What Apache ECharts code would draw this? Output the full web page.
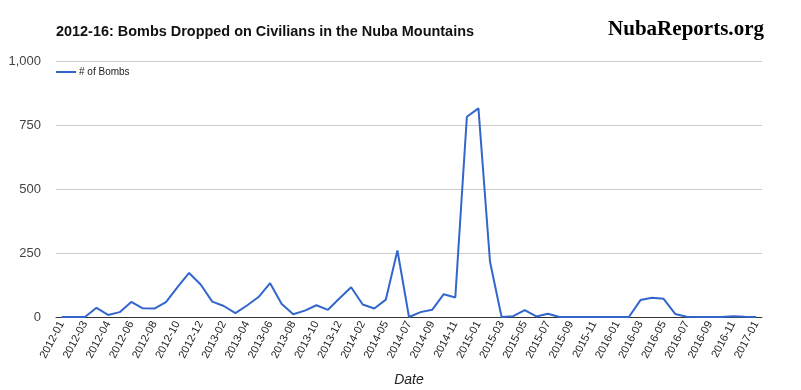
<!DOCTYPE html>
<html>
<head>
<meta charset="utf-8">
<script src="https://cdn.jsdelivr.net/npm/echarts@6/dist/echarts.min.js"></script>
<style>
html,body{margin:0;padding:0;background:#fff;}
#chart{width:801px;height:390px;}
</style>
</head>
<body>
<div id="chart"></div>
<script>
// Category labels (as shown on the reference axis; every other one is displayed)
const dates = [
  '2012-01','2012-02','2012-03','2012-03','2012-04','2012-05','2012-06','2012-07','2012-08','2012-09',
  '2012-10','2012-11','2012-12','2013-01','2013-02','2013-03','2013-04','2013-05','2013-06','2013-07',
  '2013-08','2013-09','2013-10','2013-11','2013-12','2014-01','2014-02','2014-03','2014-05','2014-06',
  '2014-07','2014-08','2014-09','2014-10','2014-11','2014-12','2015-01','2015-02','2015-03','2015-04',
  '2015-05','2015-06','2015-07','2015-08','2015-09','2015-10','2015-11','2015-12','2016-01','2016-02',
  '2016-03','2016-04','2016-05','2016-06','2016-07','2016-08','2016-09','2016-10','2016-11','2016-12',
  '2017-01'
];
// # of Bombs per period
const bombs = [
  0, 0, 0, 36, 8, 19, 59, 34, 33, 58,
  117, 172, 127, 60, 43, 15, 45, 78, 132, 51,
  11, 25, 46, 28, 73, 116, 49, 33, 68, 260,
  0, 19, 28, 89, 76, 782, 815, 216, 0, 3,
  27, 2, 13, 0, 0, 0, 0, 0, 0, 0,
  66, 75, 71, 12, 1, 0, 0, 0, 3, 1,
  0
];
const seriesName = '# of Bombs';
const titleText = '2012-16: Bombs Dropped on Civilians in the Nuba Mountains';
const yTicks = [0, 250, 500, 750, 1000];

function measure(text, font) {
  const c = document.createElement('canvas').getContext('2d');
  c.font = font;
  return c.measureText(text).width;
}
const titleFont = 'bold 14px "Liberation Sans", Arial, sans-serif';
const titleScale = 418 / measure(titleText, titleFont);
const logoFont = 'bold 21px "Liberation Serif", serif';
const logoScale = 156 / measure('NubaReports.org', logoFont);

const chart = echarts.init(document.getElementById('chart'), null, {renderer: 'canvas'});
chart.setOption({
  animation: false,
  backgroundColor: '#ffffff',
  textStyle: {fontFamily: '"Liberation Sans", Arial, sans-serif'},
  graphic: [
    {
      type: 'text', x: 56, y: 32, scaleX: titleScale, originX: 0,
      style: {text: titleText, font: titleFont, fill: '#111', verticalAlign: 'middle', align: 'left'}
    },
    {
      type: 'text', x: 764, y: 30, scaleX: logoScale, originX: 0,
      style: {
        text: '{a|Nuba}{b|Reports.org}', align: 'right', verticalAlign: 'middle',
        rich: {
          a: {fontFamily: '"Liberation Serif", serif', fontWeight: 'bold', fontSize: 21, color: '#d2602c'},
          b: {fontFamily: '"Liberation Serif", serif', fontWeight: 'bold', fontSize: 21, color: '#111'}
        }
      }
    }
  ],
  legend: {
    left: 51, top: 62,
    icon: 'rect', itemWidth: 20, itemHeight: 2,
    textStyle: {fontSize: 10, color: '#222', padding: [0, 0, 0, -2]},
    data: [seriesName]
  },
  grid: {left: 56, right: 39, top: 61, bottom: 73, containLabel: false, outerBoundsMode: 'none'},
  xAxis: {
    type: 'category',
    data: dates,
    boundaryGap: true,
    name: 'Date',
    nameLocation: 'middle',
    nameGap: 56,
    nameTextStyle: {fontSize: 14, fontStyle: 'italic', color: '#222'},
    axisLine: {lineStyle: {color: '#333', width: 1}},
    axisTick: {show: false},
    axisLabel: {interval: 1, rotate: 62, fontSize: 11, color: '#222', margin: 5},
    splitLine: {show: false}
  },
  yAxis: {
    type: 'value',
    min: yTicks[0], max: yTicks[yTicks.length - 1], interval: 250,
    axisLine: {show: false},
    axisTick: {show: false},
    axisLabel: {
      fontSize: 13, color: '#444', margin: 15,
      formatter: v => v.toLocaleString('en-US')
    },
    splitLine: {lineStyle: {color: '#cccccc', width: 1}}
  },
  series: [{
    name: seriesName,
    type: 'line',
    data: bombs,
    showSymbol: false,
    symbol: 'none',
    lineStyle: {color: '#3366cc', width: 2},
    itemStyle: {color: '#3366cc'}
  }]
});
</script>
</body>
</html>
